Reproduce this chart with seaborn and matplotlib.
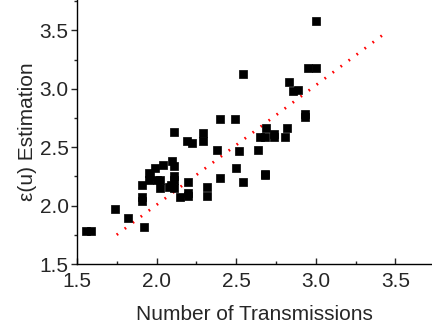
import matplotlib
matplotlib.use('Agg')
import matplotlib.pyplot as plt
from matplotlib.ticker import MultipleLocator
import seaborn as sns
import pandas as pd

# number of transmissions vs epsilon(u) estimation
transmissions = [1.56, 1.59, 1.74, 1.82, 1.92, 1.91, 1.91, 1.91,
                 1.95, 1.95, 1.96, 1.99, 2.00, 2.02, 2.02, 2.04,
                 2.08, 2.09, 2.10, 2.11, 2.11, 2.11, 2.11, 2.11,
                 2.15, 2.20, 2.20, 2.20, 2.19, 2.22, 2.29, 2.29,
                 2.32, 2.32, 2.38, 2.40, 2.40, 2.49, 2.50, 2.52,
                 2.54, 2.54, 2.64, 2.65, 2.68, 2.69, 2.68, 2.68,
                 2.74, 2.74, 2.81, 2.82, 2.83, 2.86, 2.89, 2.93,
                 2.93, 2.95, 3.00, 3.00]
estimation = [1.78, 1.78, 1.97, 1.89, 1.82, 2.04, 2.07, 2.18,
              2.22, 2.28, 2.25, 2.32, 2.22, 2.22, 2.15, 2.35,
              2.16, 2.18, 2.38, 2.34, 2.25, 2.22, 2.15, 2.63,
              2.07, 2.20, 2.11, 2.08, 2.55, 2.54, 2.62, 2.55,
              2.16, 2.08, 2.48, 2.24, 2.74, 2.74, 2.32, 2.47,
              2.20, 3.13, 2.48, 2.59, 2.59, 2.66, 2.27, 2.26,
              2.59, 2.61, 2.59, 2.66, 3.06, 2.98, 2.99, 2.78,
              2.76, 3.18, 3.18, 3.58]

# red dotted fit line endpoints
fit_x = [1.75, 3.43]
fit_y = [1.75, 3.47]

sns.set_style('ticks')
plt.rcParams['font.family'] = ['Liberation Sans', 'DejaVu Sans']

df = pd.DataFrame({'x': transmissions, 'y': estimation})
fit = pd.DataFrame({'x': fit_x, 'y': fit_y})

fig = plt.figure(figsize=(4.32, 3.30), dpi=100)
ax = fig.add_axes([0.178, 0.2, 0.822, 0.8])

sns.lineplot(data=fit, x='x', y='y', ax=ax, color='#ff0000',
             linestyle=(0, (0.6, 3.0)), linewidth=2.0)
sns.scatterplot(data=df, x='x', y='y', ax=ax, marker='s', color='black',
                s=30, edgecolor='black', linewidth=0.5, zorder=3)

ax.set_xlim(1.5, 3.73)
ax.set_ylim(1.5, 3.76)
ax.xaxis.set_major_locator(MultipleLocator(0.5))
ax.xaxis.set_minor_locator(MultipleLocator(0.25))
ax.yaxis.set_major_locator(MultipleLocator(0.5))
ax.yaxis.set_minor_locator(MultipleLocator(0.25))
ax.tick_params(axis='x', which='both', direction='in', labelsize=15, pad=6)
ax.tick_params(axis='y', which='both', direction='out', labelsize=15, pad=2)
ax.tick_params(which='major', length=4, width=1)
ax.tick_params(which='minor', length=2.5, width=1)

ax.set_xlabel('Number of Transmissions', fontsize=15, labelpad=10)
ax.set_ylabel('ε(u) Estimation', fontsize=15, labelpad=2)

for side in ['top', 'right']:
    ax.spines[side].set_visible(False)
for side in ['left', 'bottom']:
    ax.spines[side].set_linewidth(1)
    ax.spines[side].set_color('black')

fig.savefig('out.png', dpi=100)
